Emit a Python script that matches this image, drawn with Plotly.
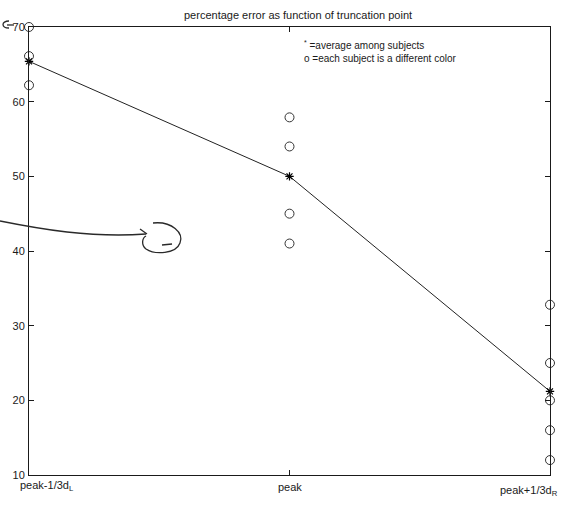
import plotly.graph_objects as go

# Truncation points along the x axis
positions = [1, 2, 3]
tick_labels = ["peak-1/3d<sub>L</sub>", "peak", "peak+1/3d<sub>R</sub>"]

# Average percentage error among subjects at each truncation point
mean_error = [65.4, 50.0, 21.2]

# Individual subject errors (one circle per subject)
subj_x = [1, 1, 1,
          2, 2, 2, 2,
          3, 3, 3, 3, 3]
subj_err = [70.0, 66.1, 62.2,
            57.9, 54.0, 45.0, 41.0,
            32.8, 25.0, 20.0, 16.0, 12.0]

y_ticks = [10, 20, 30, 40, 50, 60, 70]

W, H = 565, 507
L, R, T, B = 29, 15, 27, 32
PW, PH = W - L - R, H - T - B


def px(x, y):
    """pixel position -> paper coordinates"""
    return (x - L) / PW, (H - B - y) / PH


def path(cmds):
    out = []
    for c, pts in cmds:
        s = c
        for (x, y) in pts:
            u, v = px(x, y)
            s += f" {u:.4f},{v:.4f}"
        out.append(s)
    return " ".join(out)


FONT = "Liberation Sans, Arial, Helvetica, sans-serif"
INK = "#1a1a1a"

fig = go.Figure()

fig.add_trace(go.Scatter(
    x=subj_x, y=subj_err, mode="markers",
    marker=dict(symbol="circle-open", size=9, color="#333333", line=dict(width=1)),
    showlegend=False, cliponaxis=False,
))

fig.add_trace(go.Scatter(
    x=positions, y=mean_error, mode="lines+markers",
    line=dict(color="#222222", width=1),
    marker=dict(symbol="asterisk-open", size=7, color="#000000", line=dict(width=1.2)),
    showlegend=False, cliponaxis=False,
))

fig.update_xaxes(
    range=[1, 3], showticklabels=False, ticks="inside", ticklen=5,
    tickvals=positions, showgrid=False, zeroline=False,
    showline=True, linecolor=INK, linewidth=1, mirror="ticks", tickcolor=INK,
)
fig.update_yaxes(
    range=[10, 70], tickvals=y_ticks, ticks="inside", ticklen=5,
    showgrid=False, zeroline=False, showline=True, linecolor=INK, linewidth=1,
    mirror="ticks", tickcolor=INK, tickfont=dict(size=11, color=INK, family=FONT),
    ticklabelstandoff=1,
)

annotations = []
# category labels under the x axis
label_shift = [18, 0, -21]
label_dy = [-11, -12, -16]
for xv, txt, sx, dy in zip(positions, tick_labels, label_shift, label_dy):
    annotations.append(dict(
        x=xv, y=0, xref="x", yref="paper", text=txt, showarrow=False,
        xshift=sx, yshift=dy, yanchor="middle",
        font=dict(size=11, color=INK, family=FONT),
    ))

# title
annotations.append(dict(
    x=px(298, 0)[0], y=px(0, 15)[1], xref="paper", yref="paper",
    text="percentage error as function of truncation point", showarrow=False,
    xanchor="center", yanchor="middle", font=dict(size=11, color=INK, family=FONT),
))

# key text
annotations.append(dict(
    x=px(302, 0)[0], y=px(0, 52)[1], xref="paper", yref="paper",
    text="<sup>*</sup> =average among subjects<br>o =each subject is a different color",
    showarrow=False, align="left",
    xanchor="left", yanchor="middle", font=dict(size=10, color=INK, family=FONT),
))

# hand-drawn pen marks
pen = dict(color="#2a2a2a", width=1.3)
shapes = [
    dict(type="path", xref="paper", yref="paper", line=pen,
         path=path([("M", [(0, 221)]), ("C", [(40, 229), (90, 238), (146, 234)])])),
    dict(type="path", xref="paper", yref="paper", line=pen,
         path=path([("M", [(140, 229)]), ("L", [(147, 234), (140, 238)])])),
    dict(type="path", xref="paper", yref="paper", line=pen,
         path=path([("M", [(153, 223)]),
                    ("C", [(172, 221), (184, 233), (180, 243)]),
                    ("C", [(176, 254), (155, 255), (146, 249)]),
                    ("C", [(141, 245), (142, 238), (146, 236)])])),
    dict(type="path", xref="paper", yref="paper", line=pen,
         path=path([("M", [(162, 245)]), ("L", [(172, 244), (181, 246)])])),
    dict(type="path", xref="paper", yref="paper", line=pen,
         path=path([("M", [(9, 21)]), ("C", [(1, 21), (1, 28), (9, 28)])])),
    dict(type="path", xref="paper", yref="paper", line=pen,
         path=path([("M", [(7, 25)]), ("L", [(14, 25)])])),
]

fig.update_layout(
    width=W, height=H,
    margin=dict(l=L, r=R, t=T, b=B),
    paper_bgcolor="white", plot_bgcolor="white",
    font=dict(family=FONT, color=INK),
    annotations=annotations, shapes=shapes,
)

fig.write_html("out.html")
